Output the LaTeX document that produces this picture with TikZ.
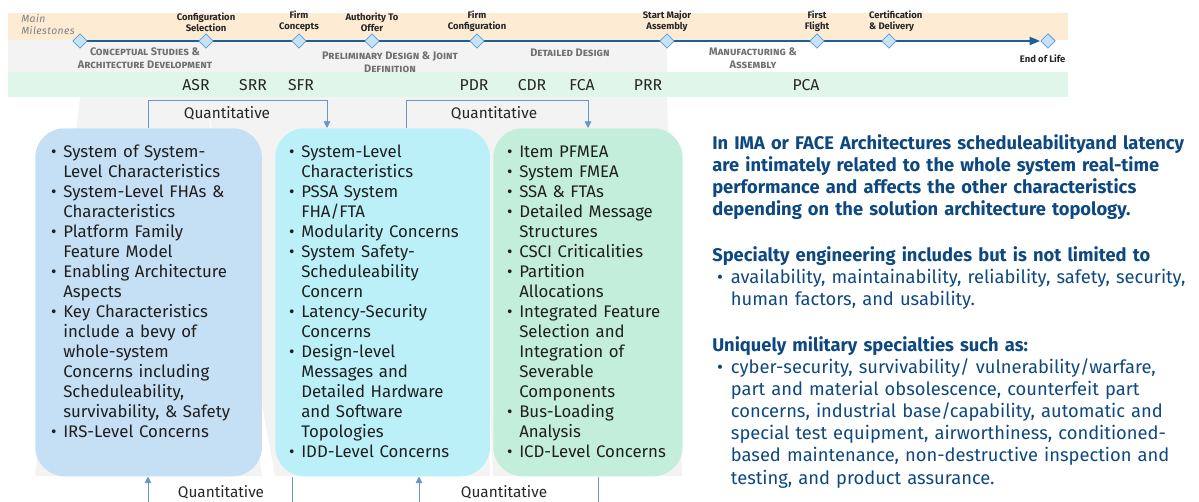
\documentclass[tikz,border=0pt]{standalone}
\usepackage{fontspec}
\setmainfont{Fira Sans}
\usepackage{enumitem}
\usetikzlibrary{arrows.meta, positioning, calc, shapes.geometric, backgrounds}
\setlist[itemize]{nosep, leftmargin=12pt, labelsep=5pt, label={\textbullet}}

\definecolor{peach}{HTML}{FDEBD3}
\definecolor{reviewbg}{HTML}{E1F6EB}
\definecolor{phasebg}{HTML}{F3F3F3}
\definecolor{lineblue}{HTML}{1D5F9C}
\definecolor{msfill}{HTML}{C6E2F7}
\definecolor{msborder}{HTML}{5B9BD5}
\definecolor{boxA}{HTML}{C5E0F4}
\definecolor{boxB}{HTML}{BCF0F9}
\definecolor{boxC}{HTML}{C4EEDC}
\definecolor{linkblue}{HTML}{6A97C0}
\definecolor{notetext}{HTML}{0E4880}
\definecolor{phasegrey}{HTML}{707070}

\begin{document}
\begin{tikzpicture}[
            x=0.75pt, y=-0.75pt,
            node distance=2pt,
            milestone/.style={diamond, draw=msborder, fill=msfill, line width=0.6pt, inner sep=0pt, minimum size=11pt},
            mslabel/.style={font=\bfseries\fontsize{7.1}{8.3}\selectfont, align=center, inner sep=0pt, text=black!85},
            phase/.style={font=\bfseries\fontsize{8.2}{9.6}\selectfont\scshape, align=center, inner sep=0pt, text=phasegrey},
            review/.style={font=\fontsize{11.8}{13}\selectfont, inner sep=0pt, text=black!85},
            box/.style={rectangle, rounded corners=22pt, anchor=north west, inner sep=0pt, minimum height=261pt},
            list/.style={anchor=north west, inner sep=0pt, align=left, font=\fontsize{12.6}{15}\selectfont, text=black!88},
            link/.style={draw=linkblue, line width=0.6pt},
            qlabel/.style={font=\fontsize{11.5}{13}\selectfont, inner sep=0pt, text=black!85},
            >={Triangle[width=5pt, length=5pt]}
        ]
            \useasboundingbox (0,0) rectangle (1199,502);

            % Milestones on the timeline
            \node[milestone] (m0) at (80,41) {};
            \node[milestone] (m1) at (206,41) {};
            \node[milestone] (m2) at (299,41) {};
            \node[milestone] (m3) at (372,41) {};
            \node[milestone] (m4) at (477,41) {};
            \node[milestone] (m5) at (667,41) {};
            \node[milestone] (m6) at (817,41) {};
            \node[milestone] (m7) at (889,41) {};
            \node[milestone] (m8) at (1048,41) {};

            \node[mslabel, above=1pt of m1] (l1) {Configuration\\Selection};
            \node[mslabel, above=1pt of m2] (l2) {Firm\\Concepts};
            \node[mslabel, above=1pt of m3] (l3) {Authority To\\Offer};
            \node[mslabel, above=1pt of m4] (l4) {Firm\\Configuration};
            \node[mslabel, above=1pt of m5] (l5) {Start Major\\Assembly};
            \node[mslabel, above=1pt of m6] (l6) {First\\Flight};
            \node[mslabel, above=1pt of m7, xshift=5pt, align=left] (l7) {Certification\\\& Delivery};
            \node[mslabel, below=4pt of m8, xshift=-4pt] (l8) {End of Life};
            \node[font=\itshape\fontsize{7.8}{9}\selectfont\addfontfeatures{LetterSpace=4}, text=black!50, align=left, inner sep=0pt, anchor=west] (main) at (21,25) {Main\\Milestones};

            % Phases
            \node[phase] (p1) at (145,58) {Conceptual Studies \&\\Architecture Development};
            \node[phase] (p2) at (390,62) {Preliminary Design \& Joint\\Definition};
            \node[phase] (p3) at (570,53) {Detailed Design};
            \node[phase] (p4) at (753,58) {Manufacturing \&\\Assembly};

            % Reviews
            \node[review] (asr) at (196,85) {ASR};
            \node[review] (srr) at (253,85) {SRR};
            \node[review] (sfr) at (301,85) {SFR};
            \node[review] (pdr) at (474,85) {PDR};
            \node[review] (cdr) at (532,85) {CDR};
            \node[review] (fca) at (582,85) {FCA};
            \node[review] (prr) at (648,85) {PRR};
            \node[review] (pca) at (806,85) {PCA};

            % Boxes
            \node[box, fill=boxA, minimum width=170pt] (B1) at (35,128) {};
            \node[box, fill=boxB, minimum width=161pt] (B2) at (275,128) {};
            \node[box, fill=boxC, minimum width=142pt] (B3) at (493,128) {};

            \node[list, text width=170pt] (T1) at (47,137) {%
              \begin{itemize}
                \item System of System-\\Level Characteristics
                \item System-Level FHAs \&\\Characteristics
                \item Platform Family\\Feature Model
                \item Enabling Architecture\\Aspects
                \item Key Characteristics\\include a bevy of\\whole-system\\Concerns including\\Scheduleability,\\survivability, \& Safety
                \item IRS-Level Concerns
              \end{itemize}};
            \node[list, text width=165pt] (T2) at (285,137) {%
              \begin{itemize}
                \item System-Level\\Characteristics
                \item PSSA System\\FHA/FTA
                \item Modularity Concerns
                \item System Safety-\\Scheduleability\\Concern
                \item Latency-Security\\Concerns
                \item Design-level\\Messages and\\Detailed Hardware\\and Software\\Topologies
                \item IDD-Level Concerns
              \end{itemize}};
            \node[list, text width=150pt] (T3) at (503,137) {%
              \begin{itemize}
                \item Item PFMEA
                \item System FMEA
                \item SSA \& FTAs
                \item Detailed Message\\Structures
                \item CSCI Criticalities
                \item Partition\\Allocations
                \item Integrated Feature\\Selection and\\Integration of\\Severable\\Components
                \item Bus-Loading\\Analysis
                \item ICD-Level Concerns
              \end{itemize}};

            % Notes
            \node[anchor=north west, inner sep=0pt, text width=410pt, align=left, text=notetext, font=\fontsize{13.75}{16.55}\selectfont] (N) at (712,134) {%
              {\bfseries In IMA or FACE Architectures scheduleabilityand latency\\are intimately related to the whole system real-time\\performance and affects the other characteristics\\depending on the solution architecture topology.}\par\vspace{18pt}
              {\bfseries Specialty engineering includes but is not limited to}
              \begin{itemize}[leftmargin=14pt, labelsep=6pt]
                \item availability, maintainability, reliability, safety, security,\\human factors, and usability.
              \end{itemize}\vspace{18pt}
              {\bfseries Uniquely military specialties such as:}
              \begin{itemize}[leftmargin=14pt, labelsep=6pt]
                \item cyber-security, survivability/ vulnerability/warfare,\\part and material obsolescence, counterfeit part\\concerns, industrial base/capability, automatic and\\special test equipment, airworthiness, conditioned-\\based maintenance, non-destructive inspection and\\testing, and product assurance.
              \end{itemize}};

            % Quantitative links
            \coordinate (q1) at (148,100);
            \coordinate (q2) at (327,100);
            \coordinate (q3) at (406,100);
            \coordinate (q4) at (588,100);
            \coordinate (r1) at (148,502);
            \coordinate (r2) at (292,502);
            \coordinate (r3) at (419,502);
            \coordinate (r4) at (598,502);

            \draw[link, ->] (q1 |- B1.north) -- (q1) -- (q2) -- (q2 |- B2.north);
            \draw[link, ->] (q3 |- B2.north) -- (q3) -- (q4) -- (q4 |- B3.north);
            \draw[link, ->] (r1) -- (r1 |- B1.south);
            \draw[link] (r2 |- B2.south) -- (r2);
            \draw[link, ->] (r3) -- (r3 |- B2.south);
            \draw[link] (r4 |- B3.south) -- (r4);

            \node[qlabel] (ql1) at (227,113) {Quantitative};
            \node[qlabel] (ql2) at (494,113) {Quantitative};
            \node[qlabel] (ql3) at (221,492) {Quantitative};
            \node[qlabel] (ql4) at (504,492) {Quantitative};

            % Bands and timeline
            \begin{scope}[on background layer]
              \fill[phasebg] (8,40) rectangle (667,72);
              \fill[phasebg] (80,97) -- (206,97) -- (262,476) -- (35,476) -- cycle;
              \fill[phasebg] (206,97) -- (477,97) -- (490,476) -- (275,476) -- cycle;
              \fill[phasebg] (477,97) -- (667,97) -- (682,476) -- (493,476) -- cycle;
              \fill[peach] (8,13) rectangle (1068,40);
              \fill[reviewbg] (8,72) rectangle (1068,97);
              \draw[lineblue, line width=1.5pt, -{Triangle[width=6pt, length=8pt]}] (m0.center) -- (m8.west);
            \end{scope}
        \end{tikzpicture}
\end{document}
